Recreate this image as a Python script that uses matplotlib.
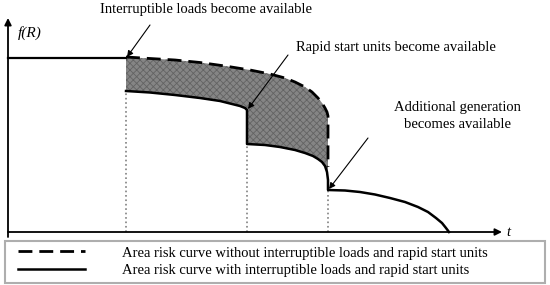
import numpy as np
import matplotlib
matplotlib.use("Agg")
import matplotlib.pyplot as plt
from matplotlib.legend_handler import HandlerLine2D

plt.rcParams['font.family'] = ['Liberation Serif', 'DejaVu Serif']

# ---- data (schematic values) ----
flat_t = [0, 118]
flat_f = [174, 174]

upper_t = [118, 142, 167, 192, 217, 242, 262, 277, 287, 297, 304, 310, 314, 317,
           319, 320, 320]
upper_f = [175, 173.5, 172, 169.5, 166, 162, 158, 154, 150, 145, 140, 134, 129, 124,
           120, 116, 65]

lower_t = [118, 142, 167, 192, 212, 224, 232, 237, 239, 239,
           257, 272, 287, 297, 305, 310, 314, 317, 319, 320,
           320, 337, 352, 367, 382, 397, 410, 420, 428, 434, 438, 441]
lower_f = [141, 139.5, 137, 134, 131, 128, 126, 124, 122, 88,
           87, 85, 82, 79, 76, 73, 70, 66, 60, 52,
           42, 41.5, 40, 37.5, 34, 30, 25, 20, 14, 9, 4, 0]

event_t = [118, 239, 320]          # times when resources become available
event_f = [141, 88, 42]            # top of dotted guide lines

labels_legend = ["Area risk curve without interruptible loads and rapid start units",
                 "Area risk curve with interruptible loads and rapid start units"]

FS = 10.5

fig = plt.figure(figsize=(5.5, 2.85), dpi=100)
ax = fig.add_axes([0, 0, 1, 1])
ax.set_xlim(-8, 542)
ax.set_ylim(-53, 232)
ax.axis('off')

# shaded region between the two curves
n_fill = 20
poly_t = list(upper_t) + lower_t[:n_fill][::-1]
poly_f = list(upper_f) + lower_f[:n_fill][::-1]
plt.rcParams['hatch.linewidth'] = 0.6
ax.fill(poly_t, poly_f, facecolor='#858585', edgecolor='#636363', hatch='xxxxx',
        linewidth=0, zorder=1)

# dotted guides
for t, f in zip(event_t, event_f):
    ax.plot([t, t], [0, f], linestyle=':', color='#808080', lw=1.2, zorder=1)

# curves
ax.plot(flat_t, flat_f, color='black', lw=1.6, zorder=3)
l_with, = ax.plot(lower_t, lower_f, color='black', lw=1.8, zorder=3,
                  solid_joinstyle='round')
l_without, = ax.plot(upper_t, upper_f, color='black', lw=2.0, zorder=4,
                     linestyle=(0, (5, 2.5)))

# axes arrows
ax.annotate('', xy=(0, 214), xytext=(0, -5),
            arrowprops=dict(arrowstyle='-|>', lw=1.3, color='black',
                            mutation_scale=10, shrinkA=0, shrinkB=0))
ax.annotate('', xy=(494, 0), xytext=(0, 0),
            arrowprops=dict(arrowstyle='-|>', lw=1.3, color='black',
                            mutation_scale=10, shrinkA=0, shrinkB=0))
ax.text(10, 199, 'f(R)', fontsize=FS + 0.5, style='italic', ha='left', va='center')
ax.text(498, 0, 't', fontsize=FS, style='italic', ha='left', va='center')

# annotations
arrow_kw = dict(arrowstyle='-|>', lw=0.8, color='black', mutation_scale=9,
                shrinkA=0, shrinkB=0)
ax.annotate('', xy=(119, 175), xytext=(142, 207), arrowprops=arrow_kw)
ax.text(198, 222, 'Interruptible loads become available', fontsize=FS,
        ha='center', va='center')
ax.annotate('', xy=(240, 123), xytext=(280, 177), arrowprops=arrow_kw)
ax.text(288, 185, 'Rapid start units become available', fontsize=FS,
        ha='left', va='center')
ax.annotate('', xy=(321, 43), xytext=(360, 94), arrowprops=arrow_kw)
ax.text(449, 116, 'Additional generation\nbecomes available', fontsize=FS,
        ha='center', va='center', linespacing=1.45)


class ShiftedHandler(HandlerLine2D):
    def __init__(self, shift, **kw):
        super().__init__(**kw)
        self.shift = shift

    def create_artists(self, legend, orig_handle, xdescent, ydescent, width,
                       height, fontsize, trans):
        s = self.shift * fontsize
        return super().create_artists(legend, orig_handle, xdescent - s, ydescent,
                                      width - s, height, fontsize, trans)


leg = ax.legend([l_without, l_with], labels_legend, loc='lower left',
                bbox_to_anchor=(-3, -51, 540, 45), bbox_transform=ax.transData,
                mode='expand', borderaxespad=0, fontsize=FS, frameon=True,
                fancybox=False, edgecolor='#9a9a9a', handlelength=5.1,
                handletextpad=2.5, borderpad=0.4, labelspacing=0.3,
                handler_map={l_without: ShiftedHandler(0.5),
                             l_with: ShiftedHandler(0.5)})
leg.get_frame().set_linewidth(1.5)

fig.savefig('out.png', dpi=100)
